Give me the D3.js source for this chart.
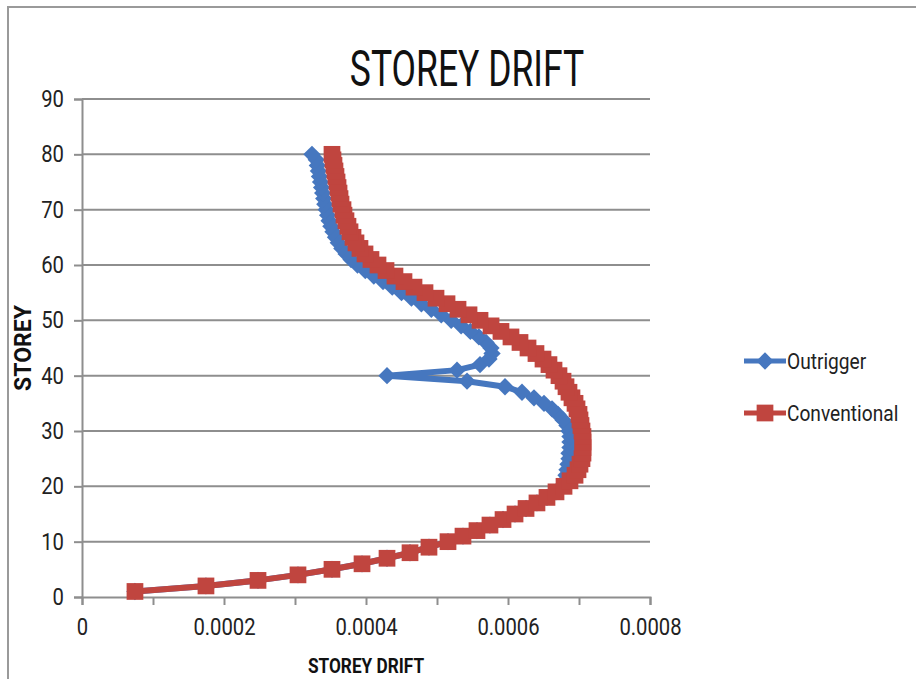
<!DOCTYPE html>
<html><head><meta charset="utf-8">
<script src="https://cdn.jsdelivr.net/npm/d3@7"></script>
<style>body{margin:0;background:#fff;} svg{display:block}</style>
</head><body>
<svg id="c" width="916" height="679"></svg>
<script>
const storeys = [1,2,3,4,5,6,7,8,9,10,11,12,13,14,15,16,17,18,19,20,
  21,22,23,24,25,26,27,28,29,30,31,32,33,34,35,36,37,38,39,40,
  41,42,43,44,45,46,47,48,49,50,51,52,53,54,55,56,57,58,59,60,
  61,62,63,64,65,66,67,68,69,70,71,72,73,74,75,76,77,78,79,80];

const conventional = [
  0.0000746,0.0001746,0.0002479,0.0003042,0.0003521,0.0003944,0.0004296,0.0004620,0.0004887,0.0005155,
  0.0005366,0.0005563,0.0005746,0.0005930,0.0006099,0.0006254,0.0006408,0.0006549,0.0006676,0.0006789,
  0.0006873,0.0006944,0.0006986,0.0007014,0.0007042,0.0007056,0.0007056,0.0007056,0.0007056,0.0007042,
  0.0007028,0.0007014,0.0007000,0.0006972,0.0006944,0.0006901,0.0006859,0.0006817,0.0006775,0.0006718,
  0.0006648,0.0006577,0.0006493,0.0006394,0.0006282,0.0006169,0.0006042,0.0005901,0.0005761,0.0005606,
  0.0005451,0.0005296,0.0005141,0.0004986,0.0004831,0.0004676,0.0004535,0.0004408,0.0004282,0.0004169,
  0.0004070,0.0003986,0.0003915,0.0003859,0.0003817,0.0003775,0.0003746,0.0003718,0.0003690,0.0003676,
  0.0003648,0.0003634,0.0003620,0.0003606,0.0003592,0.0003577,0.0003563,0.0003549,0.0003535,0.0003521];

const outrigger = [
  0.0000746,0.0001746,0.0002479,0.0003042,0.0003521,0.0003944,0.0004296,0.0004620,0.0004887,0.0005155,
  0.0005366,0.0005563,0.0005746,0.0005930,0.0006099,0.0006254,0.0006408,0.0006549,0.0006676,0.0006761,
  0.0006803,0.0006817,0.0006831,0.0006845,0.0006859,0.0006859,0.0006873,0.0006873,0.0006873,0.0006859,
  0.0006831,0.0006775,0.0006704,0.0006620,0.0006507,0.0006366,0.0006197,0.0005958,0.0005423,0.0004296,
  0.0005282,0.0005606,0.0005732,0.0005775,0.0005760,0.0005690,0.0005590,0.0005470,0.0005340,0.0005200,
  0.0005060,0.0004920,0.0004780,0.0004640,0.0004500,0.0004370,0.0004240,0.0004110,0.0003990,0.0003880,
  0.0003790,0.0003720,0.0003660,0.0003610,0.0003570,0.0003535,0.0003505,0.0003480,0.0003460,0.0003440,
  0.0003420,0.0003405,0.0003390,0.0003375,0.0003360,0.0003345,0.0003330,0.0003315,0.0003300,0.0003239];

const seriesNames = ["Outrigger", "Conventional"];
const xTickValues = [0, 0.0001, 0.0002, 0.0003, 0.0004, 0.0005, 0.0006, 0.0007, 0.0008];
const xTickLabels = ["0", "", "0.0002", "", "0.0004", "", "0.0006", "", "0.0008"];
const yTickValues = [0, 10, 20, 30, 40, 50, 60, 70, 80, 90];
const chartTitle = "STOREY DRIFT";
const xTitle = "STOREY DRIFT";
const yTitle = "STOREY";

const BLUE = "#4677bf", RED = "#c0453f", GRID = "#8e8e8e";
const FONT = "Roboto, 'Liberation Sans', sans-serif";

const svg = d3.select("#c");
svg.append("rect").attr("width", 916).attr("height", 679).attr("fill", "#fff");

// outer chart border
svg.append("path").attr("d", "M8,679V7H916").attr("fill", "none")
  .attr("stroke", "#9a9a9a").attr("stroke-width", 2);

const x = d3.scaleLinear().domain([0, 0.0008]).range([82, 650]);
const y = d3.scaleLinear().domain([0, 90]).range([597, 99]);

function condense(sel, ratio) {
  sel.each(function () {
    const w = this.getComputedTextLength();
    if (w > 0) d3.select(this).attr("textLength", w * ratio).attr("lengthAdjust", "spacingAndGlyphs");
  });
}

// gridlines
svg.append("g").selectAll("line").data(yTickValues.filter(d => d > 0)).join("line")
  .attr("x1", x(0)).attr("x2", x(0.0008)).attr("y1", d => y(d)).attr("y2", d => y(d))
  .attr("stroke", GRID).attr("stroke-width", 2);

// y axis
const yAxis = svg.append("g").attr("transform", `translate(${x(0)},0)`)
  .call(d3.axisLeft(y).tickValues(yTickValues).tickSize(8).tickPadding(10).tickFormat(d3.format("d")));
yAxis.select(".domain").attr("stroke", GRID).attr("stroke-width", 2);
yAxis.selectAll(".tick line").attr("stroke", GRID).attr("stroke-width", 2);
yAxis.selectAll(".tick text").attr("font-family", FONT).attr("font-size", 23).attr("fill", "#222")
  .call(condense, 0.88);

// x axis
const xAxis = svg.append("g").attr("transform", `translate(0,${y(0)})`)
  .call(d3.axisBottom(x).tickValues(xTickValues).tickSize(8).tickPadding(14)
    .tickFormat((d, i) => xTickLabels[i]));
xAxis.select(".domain").attr("stroke", GRID).attr("stroke-width", 2);
xAxis.selectAll(".tick line").attr("stroke", GRID).attr("stroke-width", 2);
xAxis.selectAll(".tick text").attr("font-family", FONT).attr("font-size", 23).attr("fill", "#222")
  .call(condense, 0.88);

// series
const series = [
  { name: seriesNames[0], values: outrigger, color: BLUE, sym: "diamond" },
  { name: seriesNames[1], values: conventional, color: RED, sym: "square" }
];
const line = d3.line().x(d => x(d.v)).y(d => y(d.s));

function marker(sel, s) {
  if (s.sym === "square") {
    sel.attr("d", d3.symbol(d3.symbolSquare, 280)()).attr("fill", s.color);
  } else {
    sel.attr("d", d3.symbol(d3.symbolSquare, 150)()).attr("fill", s.color);
  }
}

series.forEach(s => {
  const pts = storeys.map((st, i) => ({ s: st, v: s.values[i] }));
  const g = svg.append("g");
  g.append("path").datum(pts).attr("d", line).attr("fill", "none")
    .attr("stroke", s.color).attr("stroke-width", 6).attr("stroke-linejoin", "round");
  g.selectAll("path.m").data(pts).join("path").attr("class", "m")
    .attr("transform", d => `translate(${x(d.v)},${y(d.s)})` + (s.sym === "diamond" ? " rotate(45)" : ""))
    .call(marker, s);
});

// legend
const legend = svg.append("g");
series.forEach((s, i) => {
  const ly = 361 + i * 52;
  legend.append("line").attr("x1", 744).attr("x2", 786).attr("y1", ly).attr("y2", ly)
    .attr("stroke", s.color).attr("stroke-width", 5);
  legend.append("path").attr("transform", `translate(765,${ly})` + (s.sym === "diamond" ? " rotate(45)" : ""))
    .call(marker, s);
  legend.append("text").attr("x", 787).attr("y", ly + 8).text(s.name)
    .attr("font-family", FONT).attr("font-size", 22).attr("fill", "#222")
    .call(condense, 0.87);
});

// titles
svg.append("text").attr("x", 467).attr("y", 86).attr("text-anchor", "middle").text(chartTitle)
  .attr("font-family", FONT).attr("font-size", 50).attr("fill", "#111").call(condense, 0.71);
svg.append("text").attr("x", 366).attr("y", 673).attr("text-anchor", "middle").text(xTitle)
  .attr("font-family", FONT).attr("font-weight", "bold").attr("font-size", 21).attr("fill", "#111")
  .call(condense, 0.82);
svg.append("text").attr("transform", "translate(31,348) rotate(-90)").attr("text-anchor", "middle").text(yTitle)
  .attr("font-family", FONT).attr("font-weight", "bold").attr("font-size", 23).attr("fill", "#111");
</script>
</body></html>
